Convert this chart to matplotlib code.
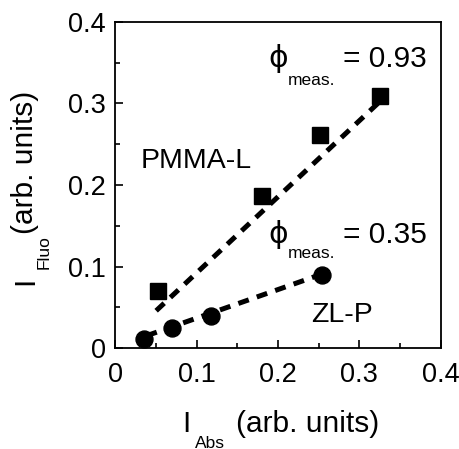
import matplotlib
matplotlib.use('Agg')
import matplotlib.pyplot as plt
from matplotlib.ticker import MultipleLocator

plt.rcParams['font.family'] = ['Liberation Sans', 'DejaVu Sans']

# measured points
pmma_x = [0.052, 0.180, 0.252, 0.325]
pmma_y = [0.070, 0.187, 0.261, 0.309]
zlp_x = [0.035, 0.070, 0.118, 0.254]
zlp_y = [0.011, 0.025, 0.039, 0.090]

# linear fits (end points)
pmma_fit_x = [0.050, 0.326]
pmma_fit_y = [0.046, 0.303]
zlp_fit_x = [0.038, 0.254]
zlp_fit_y = [0.0153, 0.0909]

W, H = 460, 449
fig = plt.figure(figsize=(W / 100, H / 100), dpi=100)
ax = fig.add_axes([115.5 / W, 1 - 348.3 / H, 325.2 / W, 326.6 / H])

ax.plot(pmma_fit_x, pmma_fit_y, color='black', lw=3.6, ls=(0, (2.2, 1.7)), zorder=2)
ax.plot(zlp_fit_x, zlp_fit_y, color='black', lw=3.6, ls=(0, (2.2, 1.7)), zorder=2)
ax.plot(pmma_x, pmma_y, 's', color='black', ms=12.2, zorder=3, clip_on=False)
ax.plot(zlp_x, zlp_y, 'o', color='black', ms=12.2, zorder=3, clip_on=False)

ax.set_xlim(0, 0.4)
ax.set_ylim(0, 0.4)
ax.xaxis.set_minor_locator(MultipleLocator(0.05))
ax.yaxis.set_minor_locator(MultipleLocator(0.05))
ax.xaxis.set_ticks([0, 0.1, 0.2, 0.3, 0.4], ['0', '0.1', '0.2', '0.3', '0.4'])
ax.yaxis.set_ticks([0, 0.1, 0.2, 0.3, 0.4], ['0', '0.1', '0.2', '0.3', '0.4'])
ax.tick_params(which='both', direction='in', width=1.2, labelsize=19.5)
ax.tick_params(which='major', length=6)
ax.tick_params(which='minor', length=3.6)
ax.tick_params(axis='x', pad=10)
ax.tick_params(axis='y', pad=7)
for s in ax.spines.values():
    s.set_linewidth(1.3)

# annotations
big = 21.5
small = 12.5
ax.text(0.031, 0.221, 'PMMA-L', fontsize=20.5, va='baseline')
ax.text(0.241, 0.0323, 'ZL-P', fontsize=20.5, va='baseline')
for yb, ys, val in [(0.345, 0.323, '= 0.93'), (0.129, 0.111, '= 0.35')]:
    ax.text(0.188, yb, '\u03d5', fontsize=big, va='baseline',
            family=['DejaVu Sans'])
    ax.text(0.2117, ys, 'meas.', fontsize=small, va='baseline')
    ax.text(0.2804, yb, val, fontsize=big, va='baseline')

# axis labels, placed by pixel
def px(x, y):
    return x / W, 1 - y / H

fig.text(*px(182, 432), 'I', fontsize=big, va='baseline')
fig.text(*px(195, 447.5), 'Abs', fontsize=small, va='baseline')
fig.text(*px(236, 432), '(arb. units)', fontsize=big, va='baseline')

fig.text(*px(33, 285), 'I', fontsize=big, va='baseline', ha='left',
         rotation=90, rotation_mode='anchor')
fig.text(*px(49, 269), 'Fluo', fontsize=small, va='baseline', ha='left',
         rotation=90, rotation_mode='anchor')
fig.text(*px(33, 234), '(arb. units)', fontsize=big, va='baseline', ha='left',
         rotation=90, rotation_mode='anchor')

fig.savefig('out.png', dpi=100)
